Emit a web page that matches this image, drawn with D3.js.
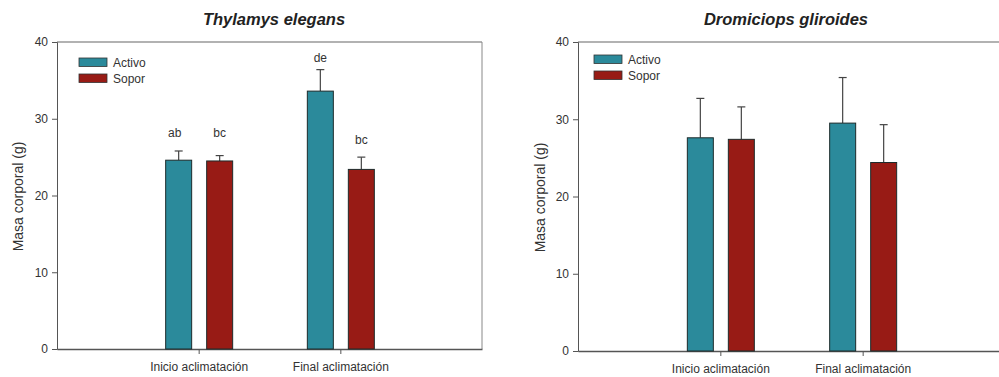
<!DOCTYPE html>
<html>
<head>
<meta charset="utf-8">
<script src="https://cdn.jsdelivr.net/npm/d3@7"></script>
<style>
  body { margin: 0; background: #fff; }
  svg { font-family: Arial, "Liberation Sans", sans-serif; }
  .axis text { font-size: 12px; fill: #333; }
  .axis path, .axis line { stroke: #555; }
</style>
</head>
<body>
<div class="chart"></div>
<script>
// data
const periods = ['Inicio aclimatación', 'Final aclimatación']
const states = ['Activo', 'Sopor']
const yTicks = [0, 10, 20, 30, 40]

const thylamysMean = [[24.6, 24.5], [33.6, 23.4]]
const thylamysTop = [[25.8, 25.2], [36.4, 25.0]]
const thylamysLetters = [['ab', 'bc'], ['de', 'bc']]
// where the letters sit, in grams
const thylamysLetterAt = [[27.6, 27.6], [37.4, 26.7]]

const dromiciopsMean = [[27.6, 27.4], [29.5, 24.4]]
const dromiciopsTop = [[32.7, 31.6], [35.4, 29.3]]

const colors = { Activo: '#2b8a9b', Sopor: '#981b15' }

const width = 999
const height = 377

const svg = d3.select('.chart')
  .append('svg')
  .attr('width', width)
  .attr('height', height)

function drawPanel(opts) {
  const g = svg.append('g')
    .attr('transform', `translate(${opts.left},${opts.top})`)

  const innerWidth = opts.w
  const innerHeight = opts.h

  const x = d3.scalePoint()
    .domain(periods)
    .range([0, innerWidth])
    .padding(1)

  const y = d3.scaleLinear()
    .domain([0, 40])
    .range([innerHeight, 0])

  // frame top + right
  g.append('line')
    .attr('x1', 0).attr('x2', innerWidth)
    .attr('y1', 0).attr('y2', 0)
    .attr('stroke', '#666').attr('stroke-width', 1.2)
  g.append('line')
    .attr('x1', innerWidth).attr('x2', innerWidth)
    .attr('y1', 0).attr('y2', innerHeight)
    .attr('stroke', '#888').attr('stroke-width', 1)

  // y axis
  g.append('g')
    .attr('class', 'axis axis--y')
    .call(d3.axisLeft(y).tickValues(yTicks).tickSize(5).tickPadding(4))
    .call(a => a.select('.domain').attr('stroke', '#999'))

  // x axis
  g.append('g')
    .attr('class', 'axis axis--x')
    .attr('transform', `translate(0,${innerHeight})`)
    .call(d3.axisBottom(x).tickSize(5).tickSizeOuter(0).tickPadding(8))
    .call(a => a.select('.domain').attr('stroke-width', 1.5))

  const barW = 26
  const offset = { Activo: -20, Sopor: 21 }

  const rows = []
  periods.forEach((p, i) => {
    states.forEach((s, j) => {
      rows.push({
        period: p,
        state: s,
        mean: opts.mean[i][j],
        top: opts.top_[i][j],
        letter: opts.letters ? opts.letters[i][j] : null,
        letterAt: opts.letterAt ? opts.letterAt[i][j] : null
      })
    })
  })

  // error bars (upper only)
  const err = g.selectAll('.err')
    .data(rows)
    .enter()
    .append('g')
    .attr('class', 'err')
    .attr('transform', d => `translate(${x(d.period) + offset[d.state]},0)`)

  err.append('line')
    .attr('x1', 0).attr('x2', 0)
    .attr('y1', d => y(d.mean)).attr('y2', d => y(d.top))
    .attr('stroke', '#444').attr('stroke-width', 1.2)
  err.append('line')
    .attr('x1', -4).attr('x2', 4)
    .attr('y1', d => y(d.top)).attr('y2', d => y(d.top))
    .attr('stroke', '#444').attr('stroke-width', 1.2)

  // bars
  g.selectAll('.bar')
    .data(rows)
    .enter()
    .append('rect')
    .attr('class', 'bar')
    .attr('x', d => x(d.period) + offset[d.state] - barW / 2)
    .attr('y', d => y(d.mean))
    .attr('width', barW)
    .attr('height', d => innerHeight - y(d.mean))
    .attr('fill', d => colors[d.state])
    .attr('stroke', '#1d2b2b')
    .attr('stroke-width', 1)

  // significance letters
  if (opts.letters) {
    g.selectAll('.letter')
      .data(rows)
      .enter()
      .append('text')
      .attr('class', 'letter')
      .attr('x', d => x(d.period) + offset[d.state] + (d.letter === 'ab' ? -4 : 0))
      .attr('y', d => y(d.letterAt))
      .attr('text-anchor', 'middle')
      .attr('font-size', 12)
      .attr('fill', '#333')
      .text(d => d.letter)
  }

  // legend
  const legend = g.selectAll('.legend')
    .data(states)
    .enter()
    .append('g')
    .attr('class', 'legend')
    .attr('transform', (d, i) => `translate(${opts.legX},${opts.legY + i * 16})`)

  legend.append('rect')
    .attr('width', 28).attr('height', 8.5)
    .attr('fill', d => colors[d])
    .attr('stroke', '#333').attr('stroke-width', 0.8)
  legend.append('text')
    .attr('x', 34).attr('y', 9)
    .attr('font-size', 12)
    .attr('fill', '#333')
    .text(d => d)

  // title
  svg.append('text')
    .attr('x', opts.titleX)
    .attr('y', 25)
    .attr('text-anchor', 'middle')
    .attr('font-size', 16.5)
    .attr('font-weight', 'bold')
    .attr('font-style', 'italic')
    .attr('fill', '#222')
    .text(opts.title)

  // y label
  svg.append('text')
    .attr('transform', `translate(${opts.labelX},${opts.top + innerHeight / 2 + 1}) rotate(-90)`)
    .attr('text-anchor', 'middle')
    .attr('font-size', 14)
    .attr('fill', '#333')
    .text('Masa corporal (g)')
}

drawPanel({
  title: 'Thylamys elegans',
  left: 57, top: 42, w: 425, h: 307,
  mean: thylamysMean, top_: thylamysTop,
  letters: thylamysLetters, letterAt: thylamysLetterAt,
  legX: 22, legY: 16, titleX: 274, labelX: 23
})

drawPanel({
  title: 'Dromiciops gliroides',
  left: 578, top: 42, w: 427, h: 309,
  mean: dromiciopsMean, top_: dromiciopsTop, letters: null,
  legX: 16, legY: 13, titleX: 786, labelX: 545
})
</script>
</body>
</html>
